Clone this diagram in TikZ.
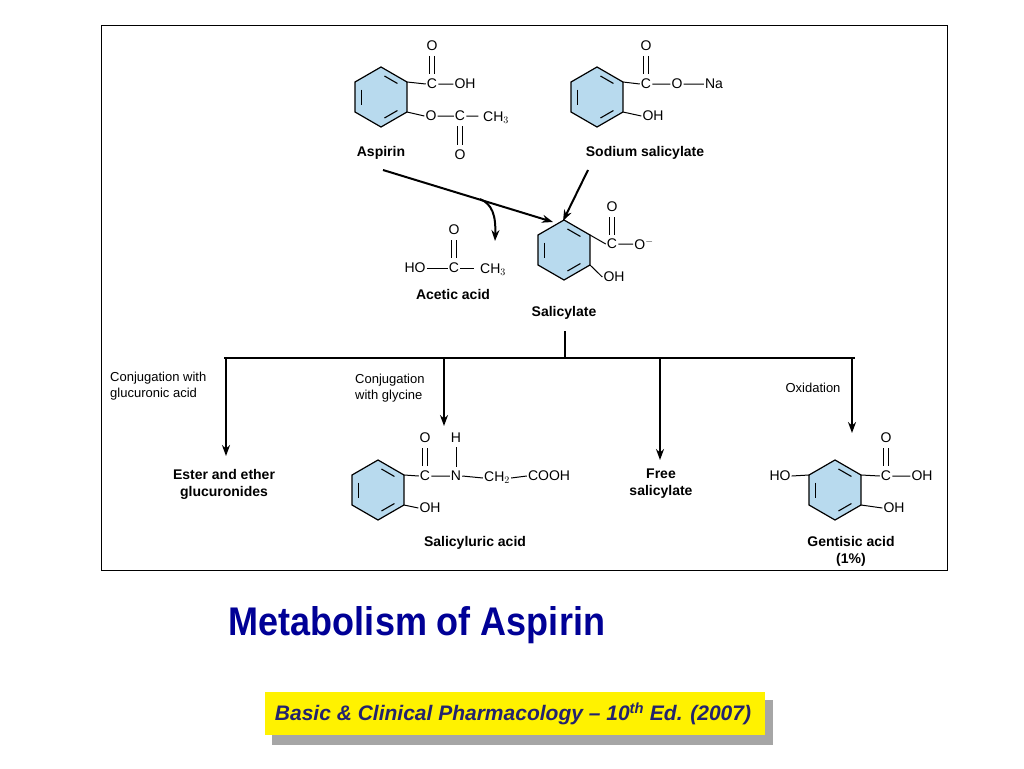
\documentclass[tikz,border=0pt]{standalone}
\usepackage{fontspec}
\setmainfont{Liberation Sans}
\usetikzlibrary{calc,arrows.meta}
\definecolor{ringblue}{RGB}{184,218,238}
\definecolor{titleblue}{RGB}{0,0,150}
\definecolor{navy}{RGB}{35,35,110}
\newcommand\benz[2]{%
\begin{scope}[shift={(#1,#2)}]
\draw[fill=ringblue,line width=1.2pt] (90:30)--(30:30)--(-30:30)--(-90:30)--(-150:30)--(150:30)--cycle;
\draw[line width=1.1pt,shorten >=4pt,shorten <=4pt] (90:23)--(30:23);
\draw[line width=1.1pt,shorten >=4pt,shorten <=4pt] (-30:23)--(-90:23);
\draw[line width=1.1pt,shorten >=4pt,shorten <=4pt] (-150:23)--(150:23);
\end{scope}}
\newcommand\dbl[3]{\draw[line width=0.9pt] (#1-2.2,#2)--(#1-2.2,#3) (#1+2.2,#2)--(#1+2.2,#3);}
\begin{document}
\begin{tikzpicture}[x=1pt,y=-1pt,
  ch/.style={font=\fontsize{14}{15}\selectfont,inner sep=1pt},
  lbl/.style={font=\bfseries\fontsize{14}{17}\selectfont,align=center,inner sep=1pt},
  note/.style={font=\fontsize{13}{15.5}\selectfont,align=left,inner sep=1pt},
  bond/.style={line width=1pt},
  arr/.style={line width=2pt,-{Stealth[length=11pt,width=8pt]}}]
\useasboundingbox (0,0) rectangle (1024,768);
\draw[line width=0.8pt] (101,25) rectangle (947,570);
% Aspirin
\benz{381}{97}
\node[ch] (a1) at (432,84) {C};
\node[ch] (a2) at (432,46) {O};
\dbl{432}{56}{74}
\node[ch] (a3) at (465,84) {OH};
\draw[bond] (407,82)--(a1.west) (a1.east)--(a3.west);
\node[ch] (a4) at (431,116) {O};
\node[ch] (a5) at (460,116) {C};
\node[ch] (a6) at (496,118) {CH$_3$};
\node[ch] (a7) at (460,155) {O};
\dbl{460}{126}{145}
\draw[bond] (407,112)--(a4.west) (a4.east)--(a5.west) (a5.east)--++(12,0);
\node[lbl] (asp) at (381,153) {Aspirin};
% Sodium salicylate
\benz{597}{97}
\node[ch] (s1) at (646,84) {C};
\node[ch] (s2) at (646,46) {O};
\dbl{646}{56}{74}
\node[ch] (s3) at (677,84) {O};
\node[ch] (s4) at (714,84) {Na};
\draw[bond] (623,82)--(s1.west) (s1.east)--(s3.west) (s3.east)--(s4.west);
\node[ch] (s5) at (653,116) {OH};
\draw[bond] (623,112)--(s5.west);
\node[lbl] (sod) at (645,153) {Sodium salicylate};
% Salicylate
\benz{564}{250}
\node[ch] (c1) at (612,244) {C};
\node[ch] (c2) at (612,207) {O};
\dbl{612}{217}{235}
\node[ch] (c3) at (644,244) {O$^{-}$};
\draw[bond] (590,235)--(c1.west) (c1.east)--(c3.west);
\node[ch] (c4) at (614,277) {OH};
\draw[bond] (590,265)--(c4.west);
\node[lbl] (sal) at (564,313) {Salicylate};
% Acetic acid
\node[ch] (e1) at (454,230) {O};
\dbl{454}{240}{258}
\node[ch] (e2) at (415,268) {HO};
\node[ch] (e3) at (454,268) {C};
\node[ch] (e4) at (493,270) {CH$_3$};
\draw[bond] (e2.east)--(e3.west) (e3.east)--++(14,0);
\node[lbl] (ace) at (453,294) {Acetic acid};
% arrows
\coordinate (p1) at (383,170);
\coordinate (p2) at (553,222);
\draw[arr] (p1)--(p2);
\draw[arr] (480,199) .. controls (492,204) and (496,215) .. (495,241);
\draw[arr] (588,170)--(563,221);
% tree
\coordinate (t0) at (565,331);
\draw[line width=2pt] (t0)--(565,358) (224,358)--(855,358);
\draw[arr] (226,358)--(226,456);
\draw[arr] (444,358)--(444,426);
\draw[arr] (660,358)--(660,460);
\draw[arr] (852,358)--(852,433);
\node[note,anchor=west] (n1) at (109,386) {Conjugation with\\glucuronic acid};
\node[note,anchor=west] (n2) at (354,388) {Conjugation\\with glycine};
\node[note] (n3) at (813,388) {Oxidation};
\node[lbl] (g1) at (224,484) {Ester and ether\\glucuronides};
\node[lbl] (g2) at (661,484) {Free\\salicylate};
% Salicyluric acid
\benz{378}{490}
\node[ch] (u1) at (425,476) {C};
\node[ch] (u2) at (425,438) {O};
\dbl{425}{448}{466}
\node[ch] (u3) at (456,476) {N};
\node[ch] (u4) at (456,438) {H};
\draw[bond] (456,447)--(456,467);
\node[ch] (u5) at (497,478) {CH$_2$};
\node[ch] (u6) at (549,476) {COOH};
\draw[bond] (404,475)--(u1.west) (u1.east)--(u3.west) (u3.east)--(u5.west) (u5.east)--(u6.west);
\node[ch] (u7) at (430,508) {OH};
\draw[bond] (404,505)--(u7.west);
\node[lbl] (ul) at (475,543) {Salicyluric acid};
% Gentisic acid
\benz{835}{490}
\node[ch] (h0) at (780,476) {HO};
\draw[bond] (h0.east)--(809,475);
\node[ch] (h1) at (886,476) {C};
\node[ch] (h2) at (886,438) {O};
\dbl{886}{448}{466}
\node[ch] (h3) at (922,476) {OH};
\draw[bond] (861,475)--(h1.west) (h1.east)--(h3.west);
\node[ch] (h4) at (894,508) {OH};
\draw[bond] (861,505)--(h4.west);
\node[lbl] (hl) at (851,551) {Gentisic acid\\(1\%)};
% title
\node[font=\bfseries\fontsize{40}{42}\selectfont,text=titleblue,xscale=0.9] (title) at (417,625) {Metabolism of Aspirin};
\fill[gray!70] (272,700) rectangle (773,745);
\node[fill=yellow,minimum width=500pt,minimum height=43pt,inner sep=0pt] (ban) at (515,713.5) {};
\node[font=\bfseries\itshape\fontsize{21}{23}\selectfont,text=navy] (bt) at (513,714) {Basic \& Clinical Pharmacology – 10\textsuperscript{th} Ed. (2007)};
\end{tikzpicture}
\end{document}
